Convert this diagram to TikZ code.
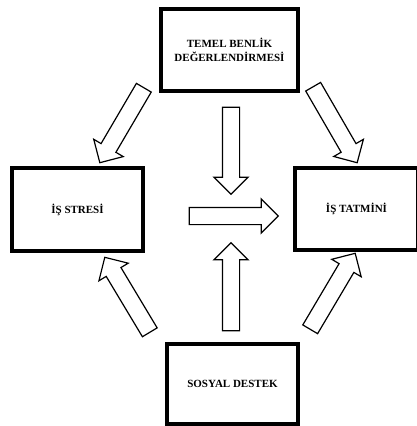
\documentclass[tikz,border=0pt]{standalone}
\usepackage{fontspec}
\setmainfont{Liberation Serif}
\usepackage{tikz}
\usetikzlibrary{positioning, calc, shapes.arrows}

\tikzset{
    kutu/.style={draw, line width=3.3pt, align=center, inner sep=2pt,
        font=\bfseries\fontsize{11}{14}\selectfont},
    blokok/.style={single arrow, draw, line width=1.2pt, fill=white,
        inner xsep=0pt, inner ysep=8pt, minimum width=0pt,
        single arrow head extend=8.5pt, single arrow tip angle=90}
}

% wide hollow arrow from one coordinate to another
\newcommand{\blokok}[3]{%
    \path let \p1=(#2), \p2=(#3),
        \n1={atan2(\y2-\y1,\x2-\x1)}, \n2={veclen(\x2-\x1,\y2-\y1)} in
        node[blokok, rotate=\n1, minimum height=\n2] (#1) at ($(\p1)!0.5!(\p2)$) {};
}

\begin{document}
\begin{tikzpicture}[x=1pt, y=-1pt]
    \useasboundingbox (0,0) rectangle (416,426);

    % Boxes
    \node[kutu, minimum width=137, minimum height=82] (tbd) at (229.5,50) {TEMEL BENLİK\\DEĞERLENDİRMESİ};
    \node[kutu, minimum width=131, minimum height=83] (stres) at (77.5,209.5) {İŞ STRESİ};
    \node[kutu, minimum width=123, minimum height=82] (tatmin) at (356.5,209) {İŞ TATMİNİ};
    \node[kutu, minimum width=131, minimum height=80] (destek) at (232.5,384) {SOSYAL DESTEK};

    % Arrow ends
    \coordinate (o1a) at (146,84);  \coordinate (o1b) at (102,159);
    \coordinate (o2a) at (311,83);  \coordinate (o2b) at (355,159);
    \coordinate (o3a) at (231,103); \coordinate (o3b) at (231,190);
    \coordinate (o4a) at (185,216); \coordinate (o4b) at (274,216);
    \coordinate (o5a) at (231,335); \coordinate (o5b) at (231,247);
    \coordinate (o6a) at (152,336); \coordinate (o6b) at (107,261);
    \coordinate (o7a) at (308,333); \coordinate (o7b) at (353,257);

    % Arrows
    \foreach \i in {1,...,7} {
        \blokok{ok\i}{o\i a}{o\i b}
    }
\end{tikzpicture}
\end{document}
